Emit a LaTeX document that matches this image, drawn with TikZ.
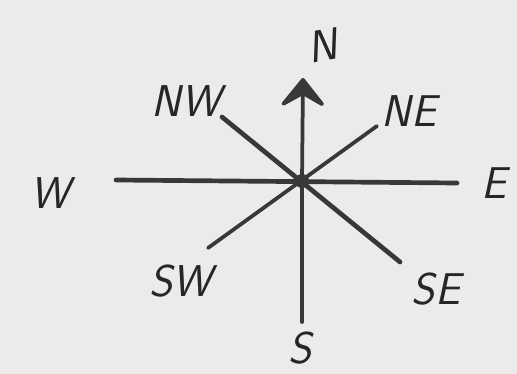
\documentclass[tikz,border=0pt]{standalone}
\usepackage{tikz}
\usetikzlibrary{arrows.meta}

\begin{document}
\begin{tikzpicture}[
    x=0.03cm, y=-0.03cm,
    ray/.style={line width=4pt, draw=black!78, line cap=round},
    thinray/.style={line width=3.2pt, draw=black!78, line cap=round},
    point/.style={font=\fontsize{38}{42}\selectfont\sffamily\itshape, text=black!85, inner sep=0pt}
]

% Papier
\fill[black!8] (0,0) rectangle (517,374);

% Mitte und Enden
\coordinate (c) at (302,181);
\coordinate (n) at (303,78);
\coordinate (s) at (302,322);
\coordinate (w) at (116,180);
\coordinate (e) at (457,183);
\coordinate (nw) at (222,117);
\coordinate (ne) at (377,126);
\coordinate (sw) at (208,248);
\coordinate (se) at (400,262);

% Beschriftungen
\node[point, rotate=10] (lN) at (322,46) {N};
\node[point] (lNW) at (186,101) {NW};
\node[point] (lNE) at (409,111) {NE};
\node[point] (lW) at (50,193) {W};
\node[point] (lE) at (494,183) {E};
\node[point] (lSW) at (181,281) {SW};
\node[point] (lSE) at (436,289) {SE};
\node[point] (lS) at (300,348) {S};

% Strahlen
\draw[ray] (w) -- (e);
\draw[ray] (nw) -- (se);
\draw[thinray] (sw) -- (ne);
\draw[thinray] (c) -- (s);
\draw[thinray, -{Stealth[width=1.6cm, length=1cm, inset=0.45cm, round]}] (c) -- (n);
\fill[black!78] (c) circle (7);

\end{tikzpicture}
\end{document}
